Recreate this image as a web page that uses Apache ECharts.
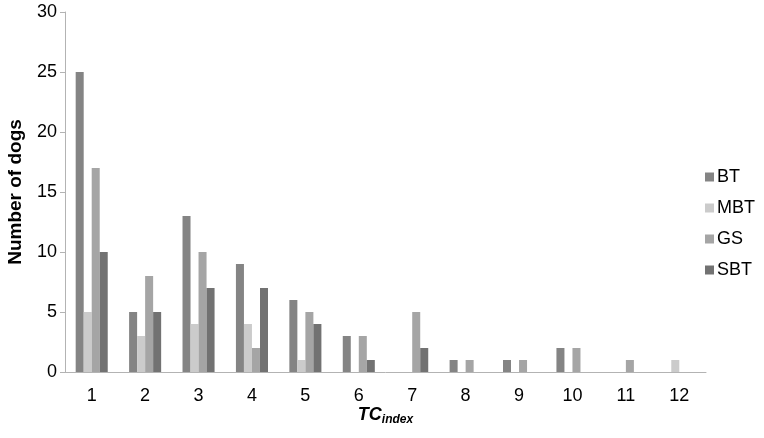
<!DOCTYPE html>
<html>
<head>
<meta charset="utf-8">
<script src="https://cdn.jsdelivr.net/npm/echarts@6/dist/echarts.min.js"></script>
<style>
  html, body { margin: 0; padding: 0; background: #fff; }
  #chart { width: 764px; height: 438px; }
</style>
</head>
<body>
<div id="chart"></div>
<script>
// TC index categories
const categories = ["1", "2", "3", "4", "5", "6", "7", "8", "9", "10", "11", "12"];
const seriesNames = ["BT", "MBT", "GS", "SBT"];
const btData = [25, 5, 13, 9, 6, 3, 0, 1, 1, 2, 0, 0];
const mbtData = [5, 3, 4, 4, 1, 0, 0, 0, 0, 0, 0, 1];
const gsData = [17, 8, 10, 2, 5, 3, 5, 1, 1, 2, 1, 0];
const sbtData = [10, 5, 7, 7, 4, 1, 2, 0, 0, 0, 0, 0];
const colors = ["#848484", "#cbcbcb", "#a5a5a5", "#727272"];

const allData = [btData, mbtData, gsData, sbtData];
const font = "Liberation Sans, Arial, sans-serif";

const chart = echarts.init(document.getElementById("chart"));
chart.setOption({
  animation: false,
  textStyle: { fontFamily: font },
  grid: { left: 65, right: 58, top: 12, bottom: 66, containLabel: false, outerBoundsMode: "none" },
  legend: {
    orient: "vertical",
    left: 700,
    top: 163,
    itemWidth: 9,
    itemHeight: 9,
    itemGap: 13,
    icon: "rect",
    data: seriesNames,
    textStyle: { fontSize: 18, color: "#000", fontFamily: font, padding: [0, 0, 0, -2] }
  },
  xAxis: {
    type: "category",
    data: categories,
    name: "{b|TC}{s|index}",
    nameLocation: "middle",
    nameGap: 32,
    nameMoveOverlap: false,
    nameTextStyle: {
      rich: {
        b: { fontSize: 18, fontWeight: "bold", fontStyle: "italic", color: "#000", fontFamily: font },
        s: { fontSize: 12, fontWeight: "bold", fontStyle: "italic", color: "#000", fontFamily: font, padding: [10, 0, 0, 0] }
      }
    },
    axisLine: { lineStyle: { color: "#b3b3b3", width: 1 } },
    axisTick: { show: false },
    axisLabel: { fontSize: 18, color: "#000", margin: 15 }
  },
  yAxis: {
    type: "value",
    min: 0,
    max: 30,
    interval: 5,
    name: "Number of dogs",
    nameLocation: "middle",
    nameGap: 40,
    nameTextStyle: { fontSize: 19, fontWeight: "bold", color: "#000" },
    axisLine: { show: true, lineStyle: { color: "#b3b3b3", width: 1 } },
    axisTick: { show: true, inside: false, length: 5, lineStyle: { color: "#b3b3b3" } },
    splitLine: { show: false },
    axisLabel: { fontSize: 18, color: "#000", margin: 8 }
  },
  series: seriesNames.map((name, i) => ({
    name: name,
    type: "bar",
    data: allData[i],
    barGap: "0%",
    barCategoryGap: "40%",
    itemStyle: { color: colors[i] }
  }))
});
</script>
</body>
</html>
